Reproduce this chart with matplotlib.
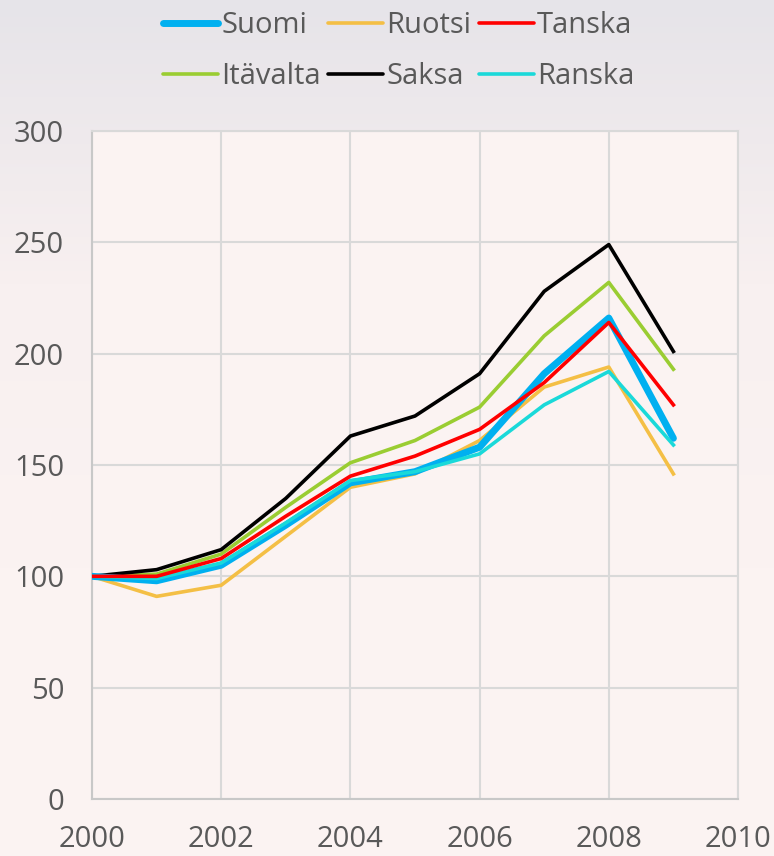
import numpy as np
import matplotlib.pyplot as plt
from matplotlib.colors import LinearSegmentedColormap

plt.rcParams['font.family'] = ['Open Sans', 'DejaVu Sans']

years = [2000, 2001, 2002, 2003, 2004, 2005, 2006, 2007, 2008, 2009]
suomi = [100, 98, 105, 123, 142, 147, 158, 191, 216, 162]
ruotsi = [100, 91, 96, 118, 140, 146, 161, 185, 194, 146]
tanska = [100, 100, 108, 127, 145, 154, 166, 187, 214, 177]
itavalta = [100, 101, 110, 131, 151, 161, 176, 208, 232, 193]
saksa = [100, 103, 112, 135, 163, 172, 191, 228, 249, 201]
ranska = [100, 99, 106, 124, 143, 147, 155, 177, 192, 159]

txt = '#595959'
grid = '#d9d9d9'

fig = plt.figure(figsize=(7.74, 8.56), dpi=100)

# background gradient (greyish top -> light pink)
bg = fig.add_axes([0, 0, 1, 1], zorder=-1)
cmap = LinearSegmentedColormap.from_list('bg', ['#e6e4e9', '#f8f0f0', '#fbf3f2', '#fbf3f2'])
grad = np.linspace(0, 1, 256).reshape(-1, 1)
bg.imshow(grad, aspect='auto', cmap=cmap, extent=[0, 1, 0, 1], origin='upper')
bg.axis('off')

ax = fig.add_axes([92/774, 1 - 799/856, (738-92)/774, (799-131)/856])
ax.set_facecolor('#fbf3f2')

ax.plot(years, suomi, color='#00b0f0', lw=5, label='Suomi', solid_capstyle='round', zorder=3)
ax.plot(years, ruotsi, color='#f4bf45', lw=2.6, label='Ruotsi', zorder=2)
ax.plot(years, tanska, color='#ff0000', lw=2.6, label='Tanska', zorder=4)
ax.plot(years, itavalta, color='#9acd32', lw=2.6, label='Itävalta', zorder=2)
ax.plot(years, saksa, color='#000000', lw=2.6, label='Saksa', zorder=2)
ax.plot(years, ranska, color='#1ad9d9', lw=2.6, label='Ranska', zorder=3)

ax.set_xlim(2000, 2010)
ax.set_ylim(0, 300)
ax.set_xticks(range(2000, 2011, 2))
ax.set_yticks(range(0, 301, 50))
ax.grid(True, color=grid, lw=1.5)
ax.set_axisbelow(True)
for s in ax.spines.values():
    s.set_color(grid)
    s.set_linewidth(1.5)
ax.spines['left'].set_color('#c8c8c8')
ax.spines['bottom'].set_color('#c8c8c8')
ax.tick_params(length=0, labelsize=21, colors=txt)
ax.tick_params(axis='x', pad=19)
ax.tick_params(axis='y', pad=20)

h, l = ax.get_legend_handles_labels()
order = [0, 3, 1, 4, 2, 5]
leg = fig.legend([h[i] for i in order], [l[i] for i in order], ncol=3,
                 loc='upper center', bbox_to_anchor=(0.515, 1.018), frameon=False,
                 fontsize=21, handlelength=1.9, handletextpad=0.1,
                 columnspacing=0.25, labelspacing=0.75, labelcolor=txt)
for line in leg.get_lines():
    line.set_solid_capstyle('round')

fig.savefig('out.png', dpi=100)
